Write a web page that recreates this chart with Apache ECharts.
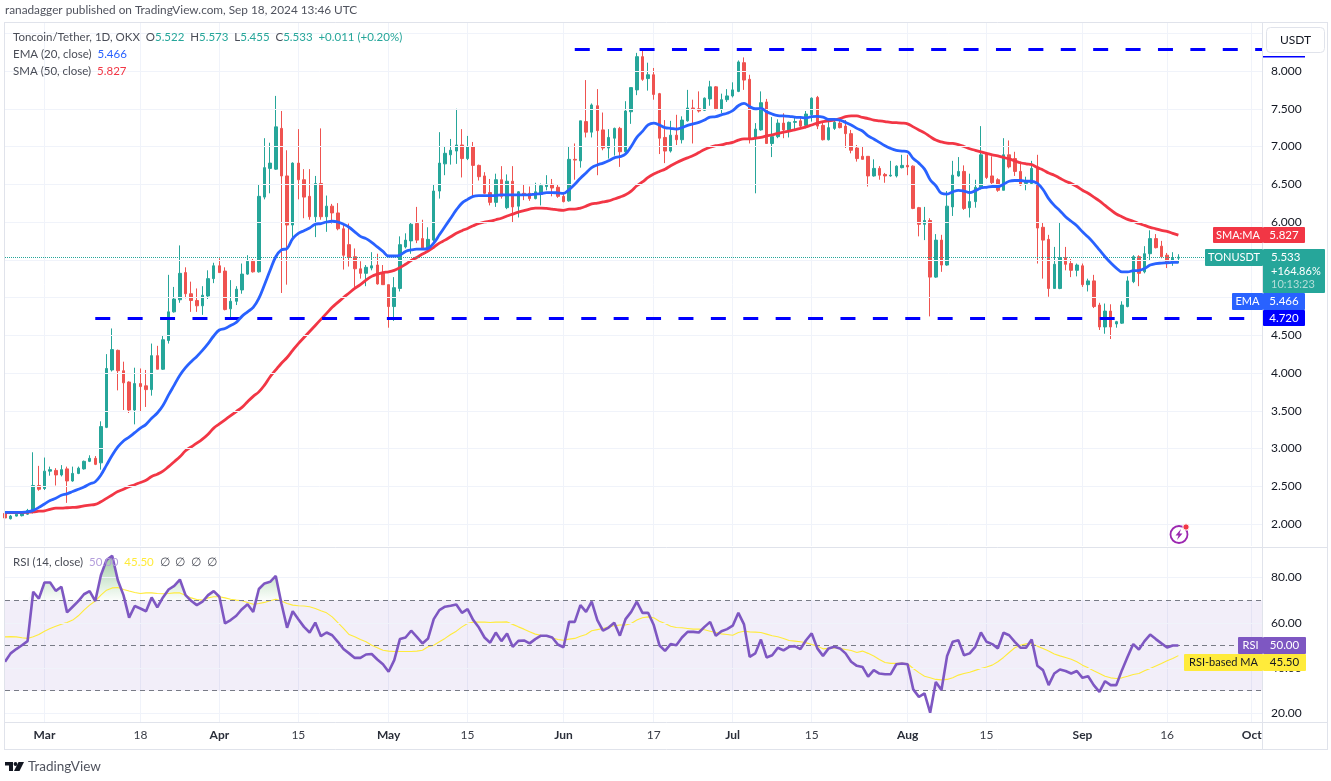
<!DOCTYPE html>
<html>
<head>
<meta charset="utf-8">
<title>TONUSDT</title>
<script src="https://cdn.jsdelivr.net/npm/echarts@6/dist/echarts.min.js"></script>
<style>
html, body { margin: 0; padding: 0; background: #fff; }
#chart { width: 1331px; height: 781px; }
</style>
</head>
<body>
<div id="chart"></div>
<script>
var opens = [2.14,2.07,2.105,2.11,2.13,2.155,2.51,2.47,2.70,2.71,
    2.65,2.73,2.57,2.67,2.73,2.83,2.87,2.81,3.28,4.04,
    4.30,4.03,3.88,3.51,3.86,3.83,3.78,4.23,4.05,4.43,
    4.81,4.97,5.33,5.05,4.96,4.89,5.02,5.25,5.42,5.35,
    4.85,4.95,5.10,5.31,5.48,5.34,6.33,6.71,6.70,7.24,
    6.61,5.96,6.78,6.56,6.34,6.07,6.51,6.07,6.21,6.12,
    5.91,5.70,5.54,5.38,5.32,5.39,5.43,5.32,5.17,4.88,
    5.12,5.67,5.75,5.98,5.78,5.64,5.76,6.41,6.77,6.89,
    6.94,7.02,6.84,7.0,6.75,6.61,6.39,6.26,6.56,6.19,
    6.54,6.21,6.38,6.38,6.31,6.38,6.47,6.50,6.46,6.34,
    6.28,6.83,6.81,7.33,7.19,7.54,7.22,6.98,7.11,7.24,
    6.93,7.46,7.75,8.19,7.90,7.95,7.70,7.12,6.94,7.15,
    7.09,7.34,7.51,7.50,7.48,7.63,7.79,7.49,7.62,7.67,
    7.73,8.11,7.89,7.11,7.22,7.59,7.04,7.13,7.31,7.22,
    7.32,7.34,7.28,7.42,7.65,7.28,7.09,7.24,7.31,7.27,
    7.17,6.98,6.87,6.87,6.61,6.71,6.63,6.61,6.61,6.72,
    6.75,6.74,6.19,5.97,6.02,5.27,5.76,5.43,6.20,6.61,
    6.67,6.19,6.27,6.46,6.90,6.61,6.56,6.42,6.89,6.84,
    6.67,6.51,6.51,6.73,5.93,5.77,5.12,5.12,5.53,5.45,
    5.36,5.42,5.17,5.22,4.90,4.61,4.82,4.65,4.66,4.88,
    5.21,5.54,5.34,5.58,5.78,5.68,5.56,5.46,5.522];
var closes = [2.08,2.105,2.13,2.14,2.18,2.51,2.46,2.70,2.72,2.65,
    2.72,2.57,2.67,2.74,2.83,2.87,2.79,3.29,4.06,4.31,
    4.03,3.87,3.51,3.86,3.82,3.78,4.23,4.05,4.44,4.81,
    4.98,5.32,5.05,4.96,4.89,5.03,5.25,5.42,5.33,4.84,
    4.95,5.11,5.31,5.48,5.34,6.34,6.72,6.78,7.26,6.61,
    5.96,6.78,6.56,6.33,6.07,6.51,6.07,6.21,6.12,5.91,
    5.56,5.53,5.38,5.32,5.40,5.42,5.18,5.17,4.88,5.13,
    5.70,5.76,5.97,5.76,5.64,5.77,6.41,6.78,6.91,6.95,
    7.02,6.84,7.0,6.75,6.60,6.38,6.26,6.56,6.34,6.54,
    6.20,6.40,6.36,6.31,6.40,6.48,6.50,6.45,6.34,6.27,
    6.83,6.82,7.34,7.19,7.55,7.21,6.98,7.12,7.24,6.93,
    7.47,7.78,8.19,7.89,7.95,7.69,7.11,6.94,7.15,7.09,
    7.35,7.51,7.50,7.47,7.64,7.79,7.50,7.62,7.67,7.75,
    8.12,7.88,7.11,7.23,7.58,7.04,7.13,7.31,7.22,7.32,
    7.33,7.27,7.43,7.64,7.27,7.09,7.25,7.32,7.25,7.17,
    6.95,6.84,6.83,6.61,6.71,6.62,6.61,6.62,6.74,6.75,
    6.73,6.18,5.97,6.02,5.27,5.76,5.43,6.21,6.62,6.67,
    6.18,6.27,6.46,6.89,6.59,6.52,6.42,6.89,6.73,6.67,
    6.49,6.55,6.71,5.92,5.76,5.12,5.44,5.53,5.44,5.36,
    5.43,5.17,5.22,4.88,4.61,4.82,4.61,4.68,4.90,5.22,
    5.54,5.32,5.58,5.78,5.66,5.54,5.45,5.52,5.533];
var highs = [2.14,2.12,2.14,2.15,2.20,2.95,2.77,2.88,2.76,2.74,
    2.78,2.76,2.76,2.76,2.84,2.91,2.90,3.36,4.25,4.59,
    4.31,4.15,3.89,4.07,4.06,4.04,4.39,4.36,4.49,5.30,
    5.14,5.69,5.40,5.21,5.12,5.15,5.36,5.46,5.52,5.40,
    5.23,5.15,5.45,5.56,5.51,6.50,7.11,7.05,7.67,7.47,
    6.95,6.79,7.23,6.70,6.70,6.61,7.24,6.35,6.24,6.25,
    6.0,5.98,5.65,5.48,5.43,5.60,5.58,5.43,5.17,5.27,
    5.81,5.85,6.0,6.20,6.03,5.93,6.49,7.19,7.00,7.10,
    7.50,7.23,7.14,7.06,6.76,6.66,6.57,6.64,6.74,6.63,
    6.74,6.41,6.50,6.47,6.52,6.51,6.62,6.57,6.50,6.38,
    7.0,7.04,7.34,7.88,7.57,7.76,7.45,7.23,7.25,7.26,
    7.60,7.78,8.24,8.29,8.11,8.04,7.71,7.35,7.34,7.42,
    7.40,7.75,7.62,7.73,7.65,7.87,7.80,7.70,7.76,7.85,
    8.14,8.18,7.95,7.31,7.73,7.63,7.39,7.36,7.44,7.33,
    7.40,7.40,7.47,7.65,7.67,7.33,7.33,7.35,7.37,7.35,
    7.22,7.02,7.00,6.87,6.83,6.74,6.65,6.81,6.75,6.89,
    6.89,6.75,6.20,6.20,6.05,5.84,5.83,6.41,6.81,6.86,
    6.75,6.64,6.56,7.27,6.91,6.87,6.58,7.11,7.08,6.93,
    6.80,6.60,6.81,6.89,6.0,5.83,5.67,6.0,5.67,5.51,
    5.45,5.45,5.25,5.30,4.93,4.92,4.91,4.69,4.95,5.28,
    5.56,5.56,5.68,5.89,5.84,5.75,5.59,5.60,5.573];
var lows = [2.07,2.06,2.10,2.10,2.12,2.14,2.44,2.45,2.64,2.51,
    2.63,2.28,2.56,2.66,2.72,2.82,2.78,2.72,3.27,4.02,
    3.77,3.51,3.47,3.32,3.49,3.55,3.70,4.05,4.04,4.39,
    4.80,4.93,4.99,4.81,4.81,4.77,4.98,5.19,5.33,4.83,
    4.74,4.90,5.05,5.30,5.33,5.33,6.30,6.38,6.69,5.06,
    5.17,5.77,6.30,6.05,6.03,5.80,6.03,5.87,5.98,5.89,
    5.37,5.41,5.14,5.25,5.15,5.36,5.17,5.17,4.60,4.69,
    5.08,5.65,5.58,5.72,5.63,5.63,5.74,6.31,6.62,6.76,
    6.77,6.59,6.82,6.34,6.55,6.37,6.22,6.20,6.31,6.17,
    6.0,6.06,6.29,6.28,6.30,6.22,6.42,6.34,6.32,6.26,
    6.27,6.56,6.72,7.12,7.12,6.62,6.95,6.84,6.88,6.73,
    6.89,7.30,7.68,7.87,7.74,7.62,6.90,6.78,6.92,7.02,
    7.04,7.33,7.04,7.45,7.47,7.54,7.48,7.44,7.59,7.65,
    7.72,7.75,7.04,6.38,7.21,7.04,6.86,7.11,7.11,7.12,
    7.22,7.24,7.24,7.33,7.23,7.08,7.08,7.22,7.24,6.98,
    6.91,6.80,6.83,6.47,6.60,6.56,6.52,6.60,6.59,6.71,
    6.62,6.17,5.81,5.76,4.75,5.26,5.34,5.42,6.08,6.60,
    6.16,6.06,6.19,6.43,6.57,6.49,6.40,6.42,6.71,6.61,
    6.48,6.42,6.50,5.45,5.25,5.01,5.12,5.11,5.36,5.27,
    5.28,5.14,5.08,4.86,4.57,4.52,4.45,4.60,4.65,4.87,
    5.19,5.15,5.32,5.49,5.65,5.52,5.39,5.42,5.455];
var ema20 = [2.155,2.155,2.155,2.155,2.16,2.18,2.22,2.265,2.31,2.34,
    2.38,2.40,2.43,2.46,2.49,2.53,2.56,2.65,2.78,2.91,
    3.02,3.10,3.15,3.21,3.27,3.32,3.40,3.47,3.57,3.71,
    3.84,3.97,4.07,4.15,4.22,4.30,4.39,4.49,4.57,4.59,
    4.63,4.67,4.75,4.81,4.87,4.99,5.17,5.36,5.54,5.63,
    5.65,5.78,5.85,5.885,5.92,5.97,5.98,6.0,6.01,6.0,
    5.97,5.93,5.87,5.81,5.78,5.73,5.67,5.61,5.55,5.55,
    5.56,5.61,5.63,5.64,5.64,5.65,5.72,5.83,5.94,6.05,
    6.16,6.25,6.30,6.34,6.35,6.35,6.35,6.35,6.36,6.36,
    6.36,6.36,6.36,6.36,6.37,6.375,6.39,6.39,6.385,6.38,
    6.43,6.50,6.58,6.65,6.72,6.755,6.78,6.81,6.85,6.865,
    6.90,7.0,7.12,7.20,7.285,7.31,7.285,7.25,7.24,7.23,
    7.25,7.28,7.30,7.32,7.35,7.39,7.395,7.42,7.44,7.475,
    7.54,7.57,7.53,7.50,7.505,7.46,7.43,7.41,7.405,7.40,
    7.39,7.385,7.38,7.395,7.40,7.39,7.36,7.36,7.35,7.32,
    7.285,7.24,7.205,7.14,7.10,7.055,7.01,6.975,6.95,6.94,
    6.93,6.84,6.78,6.70,6.56,6.48,6.38,6.37,6.40,6.42,
    6.41,6.39,6.415,6.45,6.46,6.47,6.47,6.50,6.54,6.55,
    6.55,6.54,6.54,6.51,6.43,6.31,6.22,6.15,6.07,6.01,
    5.95,5.87,5.80,5.72,5.63,5.54,5.46,5.39,5.34,5.34,
    5.355,5.36,5.385,5.43,5.45,5.455,5.46,5.465,5.466];
var sma50 = [2.15,2.15,2.15,2.15,2.155,2.16,2.17,2.175,2.195,2.21,
    2.21,2.215,2.22,2.225,2.24,2.25,2.26,2.295,2.34,2.385,
    2.43,2.46,2.495,2.52,2.55,2.58,2.63,2.66,2.70,2.76,
    2.825,2.89,2.97,3.02,3.07,3.125,3.19,3.27,3.325,3.38,
    3.435,3.49,3.545,3.62,3.69,3.75,3.84,3.95,4.04,4.13,
    4.205,4.30,4.39,4.47,4.55,4.63,4.71,4.79,4.87,4.935,
    5.0,5.06,5.12,5.17,5.23,5.28,5.31,5.33,5.34,5.36,
    5.395,5.44,5.49,5.53,5.575,5.615,5.665,5.72,5.76,5.805,
    5.85,5.885,5.915,5.95,5.98,6.0,6.01,6.03,6.05,6.08,
    6.105,6.13,6.15,6.17,6.185,6.185,6.18,6.17,6.16,6.155,
    6.17,6.17,6.185,6.21,6.24,6.25,6.265,6.28,6.305,6.33,
    6.36,6.41,6.48,6.53,6.59,6.635,6.67,6.70,6.745,6.785,
    6.82,6.85,6.88,6.92,6.96,6.99,7.01,7.02,7.04,7.055,
    7.085,7.10,7.10,7.11,7.12,7.14,7.155,7.175,7.19,7.205,
    7.22,7.24,7.26,7.285,7.31,7.33,7.34,7.35,7.37,7.395,
    7.405,7.405,7.385,7.37,7.35,7.34,7.33,7.32,7.315,7.31,
    7.30,7.26,7.22,7.18,7.13,7.085,7.06,7.045,7.04,7.025,
    7.0,6.97,6.95,6.93,6.91,6.89,6.875,6.855,6.835,6.81,
    6.785,6.77,6.76,6.72,6.69,6.65,6.62,6.58,6.54,6.51,
    6.47,6.42,6.38,6.33,6.28,6.22,6.16,6.105,6.07,6.035,
    6.01,5.98,5.955,5.93,5.91,5.89,5.875,5.85,5.827];
var rsi = [42.8,46.5,48.4,50.1,51.9,73.7,70.7,77.8,77.8,74.1,
    75.9,64.6,67.1,69.6,72.6,74,69.6,81,87.7,89.6,
    78.8,72.2,62.3,67.4,66.3,65.1,71.2,66.8,71.2,74.7,
    76.3,79.1,72.2,69.7,67.8,69.3,72.2,74,71.5,59.7,
    61.2,63.1,66,68.2,64.8,74.9,77.4,78.1,80.7,68.5,
    57.8,65.1,61.6,58.2,55.7,60.1,54.1,55.7,54.5,51.6,
    48.4,46.5,44.5,44.5,46,46.2,43.8,41.7,38.4,43.5,
    52.8,53.5,56.5,53.8,50.9,53.1,61.6,65.6,67.1,67.5,
    68.1,64.4,66,61.2,57.9,53.5,51.2,55.7,51.9,55.3,
    49.4,52,52.2,50.9,52.8,54.3,54.3,53.5,50.4,49.2,
    60.4,60.4,67.8,64.8,69.3,61.2,56.5,57.9,60,54.3,
    61.6,64.8,69.3,64.4,64.4,59,50.1,47.6,50.6,50.1,
    53.5,56,56,55.7,58.2,60.4,54.3,56.3,57.2,58.7,
    64.4,59.3,45,46.5,52.6,44.7,45.7,49,47.8,49.4,
    49.7,48.4,52.3,55.3,48.7,45.4,48.7,49.4,48.7,46.5,
    42.8,41,40.5,36.2,39.1,37.6,37.3,37.3,41.7,42,
    41.7,30.6,27.3,28.8,20.3,33.9,30.3,45.3,51.6,52.3,
    45.7,46.5,49.4,55.7,51.6,50.6,48.7,55.6,54.5,51.6,
    49,49,52.6,41,39.1,32.5,37.6,39.4,38.7,37.6,
    38.7,35.7,36.4,32.5,29.5,34.2,32.5,32.5,39.1,45,
    50.6,48.2,51.9,54.8,52.8,50.9,49.1,50,50];
var rsiMa = [53.8,53.9,53.8,53.4,53.1,53.8,54.8,56.3,57.5,58.5,
    59.4,60.1,61.2,63.1,65.6,67.8,69.6,72.2,74.4,75.4,
    75.6,74.7,74,73.4,72.9,73.2,73.2,72.9,72.8,72.9,
    73.2,73.2,72.2,71,70.3,70,71,71.5,71.5,71,
    70.4,70,69.7,69,68.2,68.5,69,69.7,70.4,69.6,
    68.5,67.8,67.5,67.4,67.1,66.3,65.3,64.4,62.6,60.1,
    57.5,54.8,53.8,52.6,51.6,50.1,49,47.9,47.5,47.3,
    47.3,47.3,47.3,47.5,47.9,49.4,50.1,51.6,53.1,54.8,
    56.3,58.2,59.7,60.3,60.3,60.3,60.1,60.3,60.3,60.4,
    59.3,58.2,57.2,56,55,54.5,54.1,53.4,52.6,52.3,
    52.8,53.1,54.1,54.8,56.5,57,57.5,58.2,58.7,59,
    59,59.7,61.2,62.2,62.6,62.2,60.7,59.7,58.5,57.9,
    57.8,57.5,57.2,57.2,56.9,56.3,55.7,55.1,54.8,54.5,
    55.7,56.3,56,55.9,55.7,55,54.3,53.8,53.1,52.2,
    51.9,51.6,51.2,50.4,49.7,48.5,48.7,49,48.7,48.2,
    47.8,46.9,47.5,46.5,45.3,43.8,42.5,42.1,42.1,42.2,
    41.9,39.8,38,36.4,35.7,35,34.8,35,35.7,36.9,
    37.6,38.2,39,39.8,40.5,41.3,42.8,44.7,46.9,49,
    50.1,50.7,50.9,49.7,48.7,47.5,46.2,45.4,44.7,43.9,
    42.8,41.3,40.1,38.8,37.6,36.4,35.7,35.4,35.7,36.4,
    37.2,37.6,38.8,39.8,40.9,42,43.2,44.2,45.5];

// x labels by date, everything else on the axis stays unlabelled
var tickLabels = {
    '2024-03-01': 'Mar', '2024-03-18': '18', '2024-04-01': 'Apr', '2024-04-15': '15',
    '2024-05-01': 'May', '2024-05-15': '15', '2024-06-01': 'Jun', '2024-06-17': '17',
    '2024-07-01': 'Jul', '2024-07-15': '15', '2024-08-01': 'Aug', '2024-08-15': '15',
    '2024-09-01': 'Sep', '2024-09-16': '16', '2024-10-01': 'Oct'
};
var priceTicks = [2, 2.5, 3, 3.5, 4, 4.5, 5, 5.5, 6, 6.5, 7, 7.5, 8, 8.5];
var rsiTicks = [20, 40, 60, 80];
var supportLevel = 4.72, resistanceLevel = 8.29, lastClose = 5.533;

var FONT = 'Lato, "Noto Sans", sans-serif';
var FS = 12, LEGEND_FS = 11.5, TAG_FS = 11;
var GRID_LINE = '#F0F3FA', FRAME = '#E0E3EB', TEXT = '#131722';
var UP = '#26A69A', DOWN = '#EF5350', LEVEL = '#0000FF';

// daily categories, Feb 23 to Oct 3
var categories = [];
for (var d = 0; d < 224; d++) {
    categories.push(new Date(Date.UTC(2024, 1, 23 + d)).toISOString().slice(0, 10));
}
function isTick(i, name) { return !!tickLabels[name]; }

var candleData = opens.map(function (o, i) { return [o, closes[i], lows[i], highs[i]]; });
var overbought = rsi.map(function (v) { return Math.max(v, 70); });

var chart = echarts.init(document.getElementById('chart'));

function xAxis(gridIndex, showLabel) {
    return {
        type: 'category', gridIndex: gridIndex, data: categories, boundaryGap: false,
        axisLine: {show: false}, axisTick: {show: false},
        splitLine: {show: true, interval: isTick, lineStyle: {color: GRID_LINE, width: 1}},
        axisLabel: {
            show: showLabel, interval: isTick, color: '#3a3d47', fontFamily: FONT, fontSize: FS, margin: 7,
            formatter: function (v) {
                var t = tickLabels[v] || '';
                return /\d/.test(t) ? t : '{m|' + t + '}';
            },
            rich: {m: {fontWeight: 700, fontFamily: FONT, fontSize: FS, color: '#2a2e39'}}
        }
    };
}
function yAxis(gridIndex, min, max, ticks, digits) {
    return {
        type: 'value', gridIndex: gridIndex, position: 'right', min: min, max: max,
        axisLine: {show: false}, axisTick: {show: false}, splitLine: {show: false},
        axisLabel: {
            color: TEXT, fontFamily: FONT, fontSize: FS, margin: 8, customValues: ticks,
            formatter: function (v) { return v.toFixed(digits); }
        }
    };
}
function levelLine(from, to, y, type, color, width) {
    return {
        silent: true, symbol: 'none', label: {show: false}, animation: false,
        lineStyle: {type: type, color: color, width: width},
        data: [[{xAxis: from, yAxis: y}, {xAxis: to, yAxis: y}]]
    };
}
function gridLines(ticks, axisIndex) {
    return {
        type: 'line', xAxisIndex: axisIndex, yAxisIndex: axisIndex, data: [], z: 1,
        markLine: {
            silent: true, symbol: 'none', label: {show: false},
            lineStyle: {type: 'solid', color: GRID_LINE, width: 1},
            data: ticks.map(function (v) { return {yAxis: v}; })
        }
    };
}
function tag(x, y, w, h, color, text, textColor, size) {
    return [
        {type: 'rect', z: 50, shape: {x: x, y: y, width: w, height: h, r: 1}, style: {fill: color}},
        {type: 'text', z: 51, x: x + w / 2, y: y + h / 2, style: {text: text, fill: textColor || '#fff',
            font: (size || LEGEND_FS) + 'px ' + FONT, align: 'center', verticalAlign: 'middle'}}
    ];
}
function hLine(x1, x2, y, color) {
    return {type: 'line', z: 40, shape: {x1: x1, y1: y, x2: x2, y2: y}, style: {stroke: color || FRAME, lineWidth: 1}};
}
function vLine(x, y1, y2, color) {
    return {type: 'line', z: 40, shape: {x1: x, y1: y1, x2: x, y2: y2}, style: {stroke: color || FRAME, lineWidth: 1}};
}
var legendFont = LEGEND_FS + 'px ' + FONT;
var legendRich = {
    g: {fill: '#4a4d57', font: legendFont},
    u: {fill: UP, font: legendFont},
    b: {fill: '#2962FF', font: legendFont},
    r: {fill: '#F23645', font: legendFont},
    p: {fill: '#b39ddb', font: legendFont},
    y: {fill: '#FFEB3B', font: legendFont}
};
function legendRow(y, text) {
    return {type: 'text', z: 60, x: 13, y: y, style: {text: text, rich: legendRich, font: legendFont, verticalAlign: 'middle', fill: '#4a4d57'}};
}

var graphics = [
    {type: 'text', z: 60, x: 5, y: 10, style: {text: 'ranadagger published on TradingView.com, Sep 18, 2024 13:46 UTC',
        font: '11.8px ' + FONT, fill: '#50535E', verticalAlign: 'middle'}},
    legendRow(37, '{g|Toncoin/Tether, 1D, OKX  O}{u|5.522}{g|  H}{u|5.573}{g|  L}{u|5.455}{g|  C}{u|5.533}{u|  +0.011 (+0.20%)}'),
    legendRow(54, '{g|EMA (20, close)  }{b|5.466}'),
    legendRow(71, '{g|SMA (50, close)  }{r|5.827}'),
    legendRow(562, '{g|RSI (14, close)  }{p|50.00}{g|  }{y|45.50}{g|  ∅  ∅  ∅  ∅}'),
    // frame
    hLine(5, 1328, 22.5), hLine(5, 1328, 547.5), hLine(5, 1328, 722.5), hLine(5, 1328, 749.5),
    vLine(4.5, 22, 750), vLine(1262.5, 22, 750), vLine(1327.5, 22, 750),
    // USDT button
    {type: 'rect', z: 50, shape: {x: 1266.5, y: 27.5, width: 58, height: 25, r: 4}, style: {fill: '#fff', stroke: FRAME, lineWidth: 1}},
    {type: 'text', z: 51, x: 1295.5, y: 40, style: {text: 'USDT', font: FS + 'px ' + FONT, fill: TEXT, align: 'center', verticalAlign: 'middle'}},
    {type: 'rect', z: 49, shape: {x: 1263, y: 56, width: 42, height: 1.6}, style: {fill: LEVEL}},
    // bolt icon
    {type: 'circle', z: 45, shape: {cx: 1179, cy: 534.5, r: 8.5}, style: {fill: '#fff', stroke: '#9C27B0', lineWidth: 1.8}},
    {type: 'polygon', z: 46, shape: {points: [[1181, 529], [1175.5, 535.5], [1178.5, 535.5], [1177, 540], [1182.5, 533.5], [1179.5, 533.5]]}, style: {fill: '#9C27B0'}},
    {type: 'circle', z: 47, shape: {cx: 1186, cy: 527, r: 3.2}, style: {fill: '#F23645', stroke: '#fff', lineWidth: 1}},
    // logo
    {type: 'polygon', z: 60, shape: {points: [[5, 762], [13, 762], [13, 771], [9, 771], [9, 765.5], [5, 765.5]]}, style: {fill: '#131722'}},
    {type: 'circle', z: 60, shape: {cx: 15.5, cy: 764, r: 1.9}, style: {fill: '#131722'}},
    {type: 'polygon', z: 60, shape: {points: [[18.5, 762], [24, 762], [19.5, 771], [14, 771]]}, style: {fill: '#131722'}},
    {type: 'text', z: 60, x: 28, y: 766.5, style: {text: 'TradingView', font: '13.5px ' + FONT, fill: '#50535E', verticalAlign: 'middle'}}
].concat(
    tag(1213, 227, 50, 16, '#F23645', 'SMA:MA', null, TAG_FS), tag(1263, 227, 42, 16, '#F23645', '5.827'),
    tag(1205, 249, 58, 17, UP, 'TONUSDT', null, TAG_FS),
    [{type: 'rect', z: 50, shape: {x: 1263, y: 249, width: 62, height: 44, r: 1}, style: {fill: UP}},
     {type: 'text', z: 51, x: 1271, y: 257.5, style: {text: '5.533', font: legendFont, fill: '#fff', verticalAlign: 'middle'}},
     {type: 'text', z: 51, x: 1271, y: 271, style: {text: '+164.86%', font: TAG_FS + 'px ' + FONT, fill: '#fff', verticalAlign: 'middle'}},
     {type: 'text', z: 51, x: 1271, y: 284.5, style: {text: '10:13:23', font: TAG_FS + 'px ' + FONT, fill: '#b5ded9', verticalAlign: 'middle'}}],
    tag(1232, 293, 31, 17, '#2962FF', 'EMA', null, TAG_FS), tag(1263, 293, 42, 17, '#2962FF', '5.466'),
    tag(1263, 310, 42, 16, LEVEL, '4.720'),
    tag(1238, 637, 25, 17, '#7E57C2', 'RSI', null, TAG_FS), tag(1263, 637, 43, 17, '#7E57C2', '50.00'),
    tag(1184, 654, 79, 17, '#FFEB3B', 'RSI-based MA', '#131722', TAG_FS), tag(1263, 654, 43, 17, '#FFEB3B', '45.50', '#131722')
);

var option = {
    animation: false,
    backgroundColor: '#fff',
    grid: [
        {left: 5, width: 1258, top: 23, height: 523},
        {left: 5, width: 1258, top: 548, height: 174}
    ],
    xAxis: [xAxis(0, false), xAxis(1, true)],
    yAxis: [yAxis(0, 1.7086, 8.6358, priceTicks, 3), yAxis(1, 16.2, 93.02, rsiTicks, 2)],
    graphic: graphics,
    series: [
        gridLines(priceTicks, 0),
        gridLines(rsiTicks, 1),
        {
            name: 'TONUSDT', type: 'candlestick', xAxisIndex: 0, yAxisIndex: 0, barWidth: 3, z: 3,
            itemStyle: {color: UP, color0: DOWN, borderColor: UP, borderColor0: DOWN, borderWidth: 1},
            data: candleData,
            markLine: levelLine(0, 213, lastClose, 'dotted', UP, 1)
        },
        {name: 'SMA 50', type: 'line', xAxisIndex: 0, yAxisIndex: 0, data: sma50, showSymbol: false, smooth: 0.4, z: 4,
            lineStyle: {color: '#F23645', width: 2.8}},
        {name: 'EMA 20', type: 'line', xAxisIndex: 0, yAxisIndex: 0, data: ema20, showSymbol: false, smooth: 0.4, z: 5,
            lineStyle: {color: '#2962FF', width: 2.8}},
        {name: 'Support', type: 'line', xAxisIndex: 0, yAxisIndex: 0, data: [], z: 6,
            markLine: levelLine(16, 220, supportLevel, [15, 17.4], LEVEL, 3)},
        {name: 'Resistance', type: 'line', xAxisIndex: 0, yAxisIndex: 0, data: [], z: 6,
            markLine: levelLine(101, 223, resistanceLevel, [15, 17.4], LEVEL, 3)},
        {
            name: 'Overbought', type: 'line', xAxisIndex: 1, yAxisIndex: 1, data: overbought, showSymbol: false, z: 2,
            lineStyle: {width: 0},
            areaStyle: {origin: 70, color: new echarts.graphic.LinearGradient(0, 0, 0, 1, [
                {offset: 0, color: 'rgba(56,142,60,0.7)'}, {offset: 1, color: 'rgba(76,175,80,0.03)'}
            ])}
        },
        {
            name: 'RSI', type: 'line', xAxisIndex: 1, yAxisIndex: 1, data: rsi, showSymbol: false, z: 5,
            lineStyle: {color: '#7E57C2', width: 2.6},
            markArea: {silent: true, itemStyle: {color: 'rgba(126,87,194,0.1)'}, data: [[{yAxis: 70}, {yAxis: 30}]]},
            markLine: {
                silent: true, symbol: 'none', label: {show: false},
                lineStyle: {type: [5, 4], color: '#787B86', width: 1},
                data: [{yAxis: 70}, {yAxis: 50}, {yAxis: 30}]
            }
        },
        {name: 'RSI-based MA', type: 'line', xAxisIndex: 1, yAxisIndex: 1, data: rsiMa, showSymbol: false, z: 4,
            lineStyle: {color: '#FFEB3B', width: 1.1}}
    ]
};
chart.setOption(option);
</script>
</body>
</html>
